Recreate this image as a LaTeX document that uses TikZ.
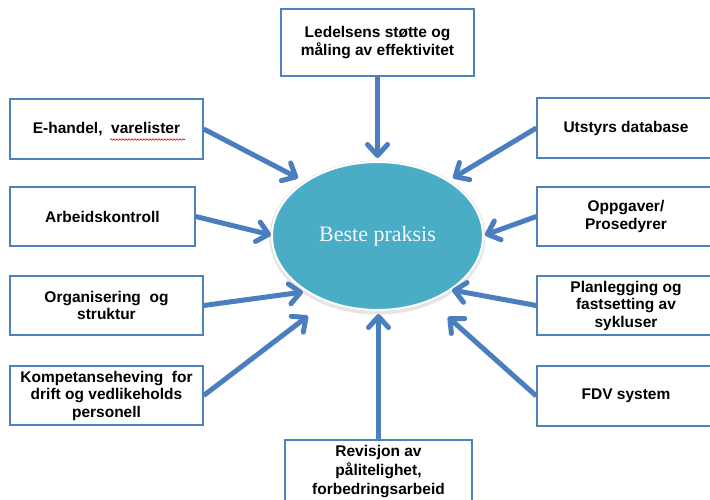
\documentclass[tikz,border=0pt]{standalone}
\usepackage{fontspec}
\setmainfont{Liberation Serif}
\newfontfamily\labelfont{Liberation Sans}
\usetikzlibrary{arrows.meta,shapes.geometric,decorations.pathmorphing}
\definecolor{boxblue}{HTML}{4F81BD}
\definecolor{arrowblue}{HTML}{4A7EBF}
\definecolor{hubfill}{HTML}{4BACC6}
\begin{document}
\begin{tikzpicture}[x=1pt,y=-1pt,
  infobox/.style={draw=boxblue, line width=1.4pt, fill=white, inner sep=0pt,
    align=center, font=\labelfont\bfseries\fontsize{15.5}{17.5}\selectfont},
  leftbox/.style={infobox, minimum width=193pt, minimum height=60pt},
  rightbox/.style={infobox, minimum width=178pt, minimum height=60pt},
  flow/.style={draw=arrowblue, line width=5pt,
    -{Straight Barb[length=11pt,width=20pt,round]}},
  hub/.style={ellipse, fill=hubfill, draw=white, line width=2pt, inner sep=0pt,
    minimum width=211pt, minimum height=148pt, text=white!94!gray,
    font=\fontsize{22}{26}\selectfont}]
\useasboundingbox (0,0) rectangle (710,499);
\clip (0,0) rectangle (710,499);
\fill[white] (0,0) rectangle (710,499);

% central hub with a soft rim
\fill[black!10] (377.5,237.5) ellipse (108 and 77);
\node[hub] (hub) at (377.5,236) {Beste praksis};

% surrounding boxes
\node[infobox, minimum width=193pt, minimum height=67pt] (lead) at (377.5,42.5)
  {Ledelsens støtte og\\måling av effektivitet};
\node[leftbox] (ehandel) at (106.5,129) {E-handel,\ \ varelister};
\node[leftbox, minimum width=185pt, minimum height=59pt] (arbeid) at (102.5,216.5) {Arbeidskontroll};
\node[leftbox, minimum height=59pt] (org) at (106.5,305.5) {Organisering\ \ og\\struktur};
\node[leftbox, minimum height=59pt] (komp) at (106.5,395.5)
  {Kompetanseheving\ \ for\\drift og vedlikeholds\\personell};
\node[rightbox] (utstyr) at (626,128) {Utstyrs database};
\node[rightbox, minimum height=59pt] (oppg) at (626,216.5) {Oppgaver/\\Prosedyrer};
\node[rightbox, minimum height=59pt] (plan) at (626,305.5)
  {Planlegging og\\fastsetting av\\sykluser};
\node[rightbox] (fdv) at (626,396) {FDV system};
\node[infobox, minimum width=187pt, minimum height=64pt,
  font=\labelfont\bfseries\fontsize{15.5}{19}\selectfont] (rev) at (378.5,472)
  {Revisjon av\\pålitelighet,\\forbedringsarbeid};

% spell-check mark under "varelister"
\coordinate (sqa) at (110,139.5);
\coordinate (sqb) at (185,139.5);
\draw[red!85!black, line width=0.6pt, decorate,
  decoration={snake, amplitude=0.8pt, segment length=3pt}] (sqa) -- (sqb);

% arrow tips on the rim of the hub
\coordinate (tLead) at (377.5,158);
\coordinate (tEhandel) at (298,178);
\coordinate (tArbeid) at (271,235);
\coordinate (tOrg) at (303,292);
\coordinate (tKomp) at (308,316);
\coordinate (tRev) at (378.5,314);
\coordinate (tUtstyr) at (453,178);
\coordinate (tOppg) at (485,235);
\coordinate (tPlan) at (452,290);
\coordinate (tFdv) at (448,317);

% connectors
\draw[flow] (lead.south) -- (tLead);
\draw[flow] (ehandel.east) -- (tEhandel);
\draw[flow] (arbeid.east) -- (tArbeid);
\draw[flow] (org.east) -- (tOrg);
\draw[flow] (komp.east) -- (tKomp);
\draw[flow] (rev.north) -- (tRev);
\draw[flow] (utstyr.west) -- (tUtstyr);
\draw[flow] (oppg.west) -- (tOppg);
\draw[flow] (plan.west) -- (tPlan);
\draw[flow] (fdv.west) -- (tFdv);
\end{tikzpicture}
\end{document}
